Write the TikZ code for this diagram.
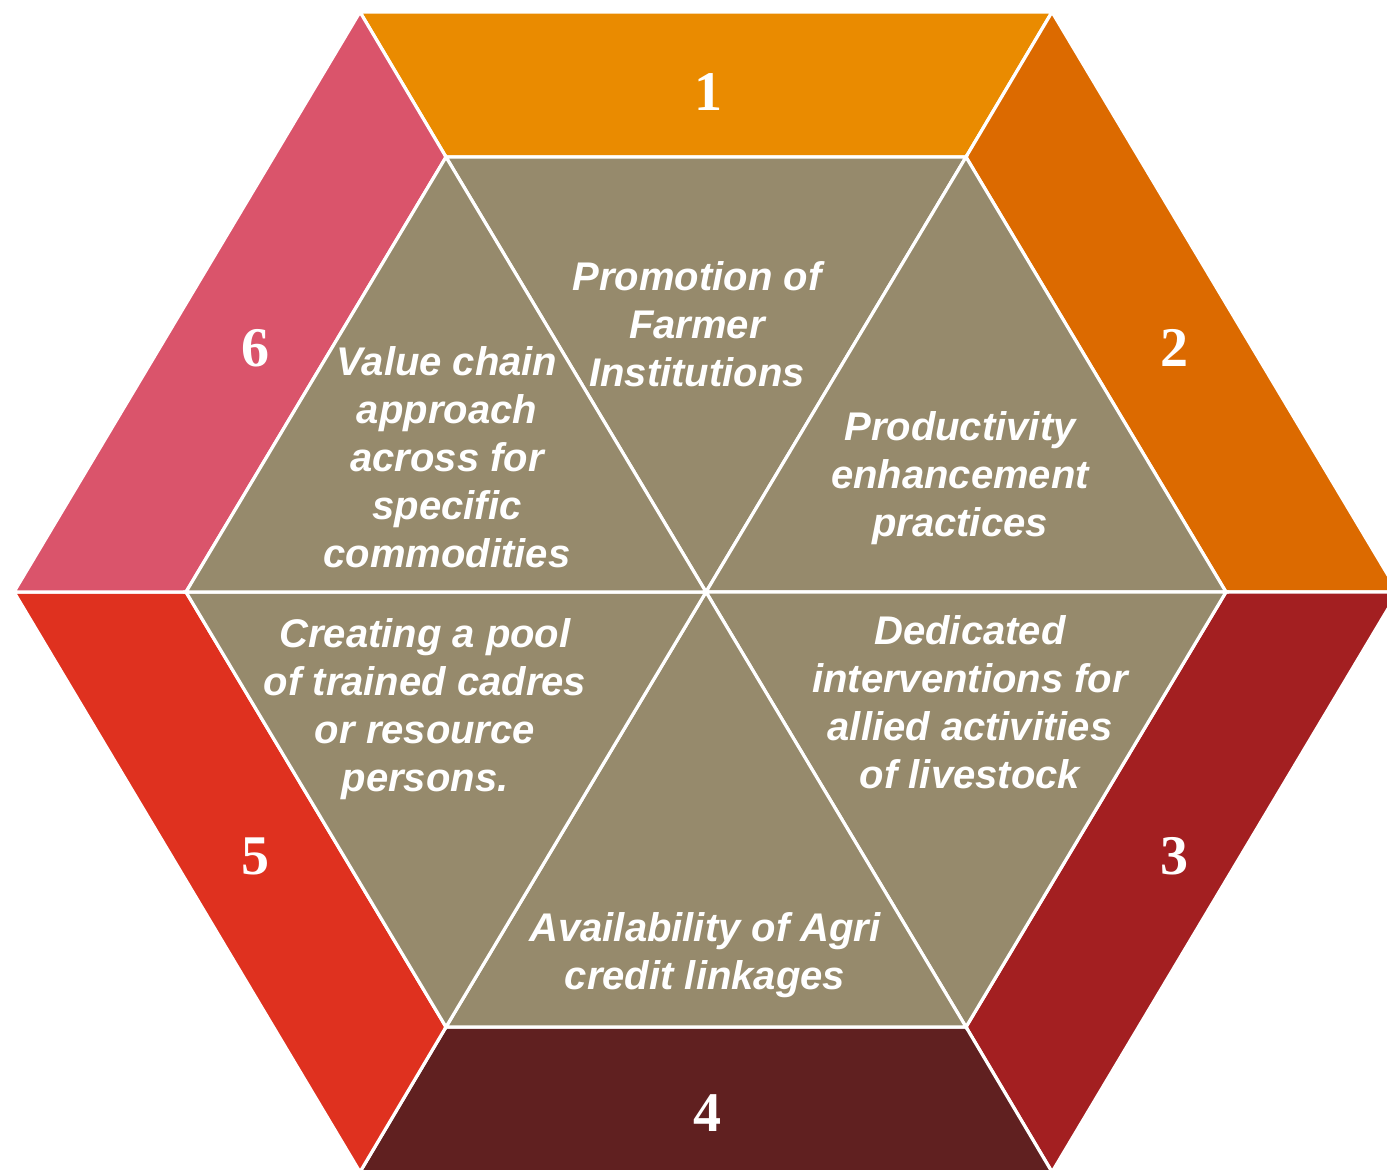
\documentclass[tikz,border=0pt]{standalone}
\usepackage{fontspec}
\setmainfont{Liberation Sans}
\newfontfamily\numfont{Liberation Serif}
\definecolor{segA}{HTML}{EA8B00}
\definecolor{segB}{HTML}{DC6A00}
\definecolor{segC}{HTML}{A31F21}
\definecolor{segD}{HTML}{602020}
\definecolor{segE}{HTML}{DF311F}
\definecolor{segF}{HTML}{DA546B}
\definecolor{core}{HTML}{968A6C}
\tikzset{
  seg/.style={draw=white, line width=1.6pt, line join=miter},
  tri/.style={fill=core, draw=white, line width=1.6pt, line join=miter},
  num/.style={text=white, font=\numfont\bfseries\fontsize{28}{30}\selectfont},
  lbl/.style={text=white, align=center, font=\bfseries\itshape\fontsize{20}{24}\selectfont}
}
\begin{document}
\begin{tikzpicture}[x=0.5pt, y=-0.5pt]
\useasboundingbox (0,0) rectangle (1387,1170);
\clip (0,0) rectangle (1387,1170);
% outer hexagon corners
\coordinate (O1) at (1398,592);
\coordinate (O2) at (1052,12);
\coordinate (O3) at (360,12);
\coordinate (O4) at (14,592);
\coordinate (O5) at (360,1172);
\coordinate (O6) at (1052,1172);
% inner hexagon corners
\coordinate (I1) at (1226,592);
\coordinate (I2) at (966,157);
\coordinate (I3) at (446,157);
\coordinate (I4) at (186,592);
\coordinate (I5) at (446,1027);
\coordinate (I6) at (966,1027);
\coordinate (C) at (706,592);
% outer band segments
\filldraw[seg, fill=segA] (O3) -- (O2) -- (I2) -- (I3) -- cycle;
\filldraw[seg, fill=segB] (O2) -- (O1) -- (I1) -- (I2) -- cycle;
\filldraw[seg, fill=segC] (O1) -- (O6) -- (I6) -- (I1) -- cycle;
\filldraw[seg, fill=segD] (O6) -- (O5) -- (I5) -- (I6) -- cycle;
\filldraw[seg, fill=segE] (O5) -- (O4) -- (I4) -- (I5) -- cycle;
\filldraw[seg, fill=segF] (O4) -- (O3) -- (I3) -- (I4) -- cycle;
% inner triangles
\filldraw[tri] (C) -- (I3) -- (I2) -- cycle;
\filldraw[tri] (C) -- (I2) -- (I1) -- cycle;
\filldraw[tri] (C) -- (I1) -- (I6) -- cycle;
\filldraw[tri] (C) -- (I6) -- (I5) -- cycle;
\filldraw[tri] (C) -- (I5) -- (I4) -- cycle;
\filldraw[tri] (C) -- (I4) -- (I3) -- cycle;
% segment numbers
\node[num] (n1) at (708,92) {1};
\node[num] (n2) at (1174,348) {2};
\node[num] (n3) at (1174,856) {3};
\node[num] (n4) at (707,1113) {4};
\node[num] (n5) at (255,856) {5};
\node[num] (n6) at (255,348) {6};
% triangle labels
\node[lbl] (t1) at (697,324) {Promotion of\\Farmer\\Institutions};
\node[lbl] (t2) at (960,478) {Productivity\\enhancement\\practices};
\node[lbl] (t3) at (970,702) {Dedicated\\interventions for\\allied activities\\of livestock};
\node[lbl] (t4) at (705,955) {Availability of Agri\\credit linkages};
\node[lbl] (t5) at (425,709) {Creating a pool\\of trained cadres\\or resource\\persons.};
\node[lbl] (t6) at (447,457) {Value chain\\approach\\across for\\specific\\commodities};
\end{tikzpicture}
\end{document}
